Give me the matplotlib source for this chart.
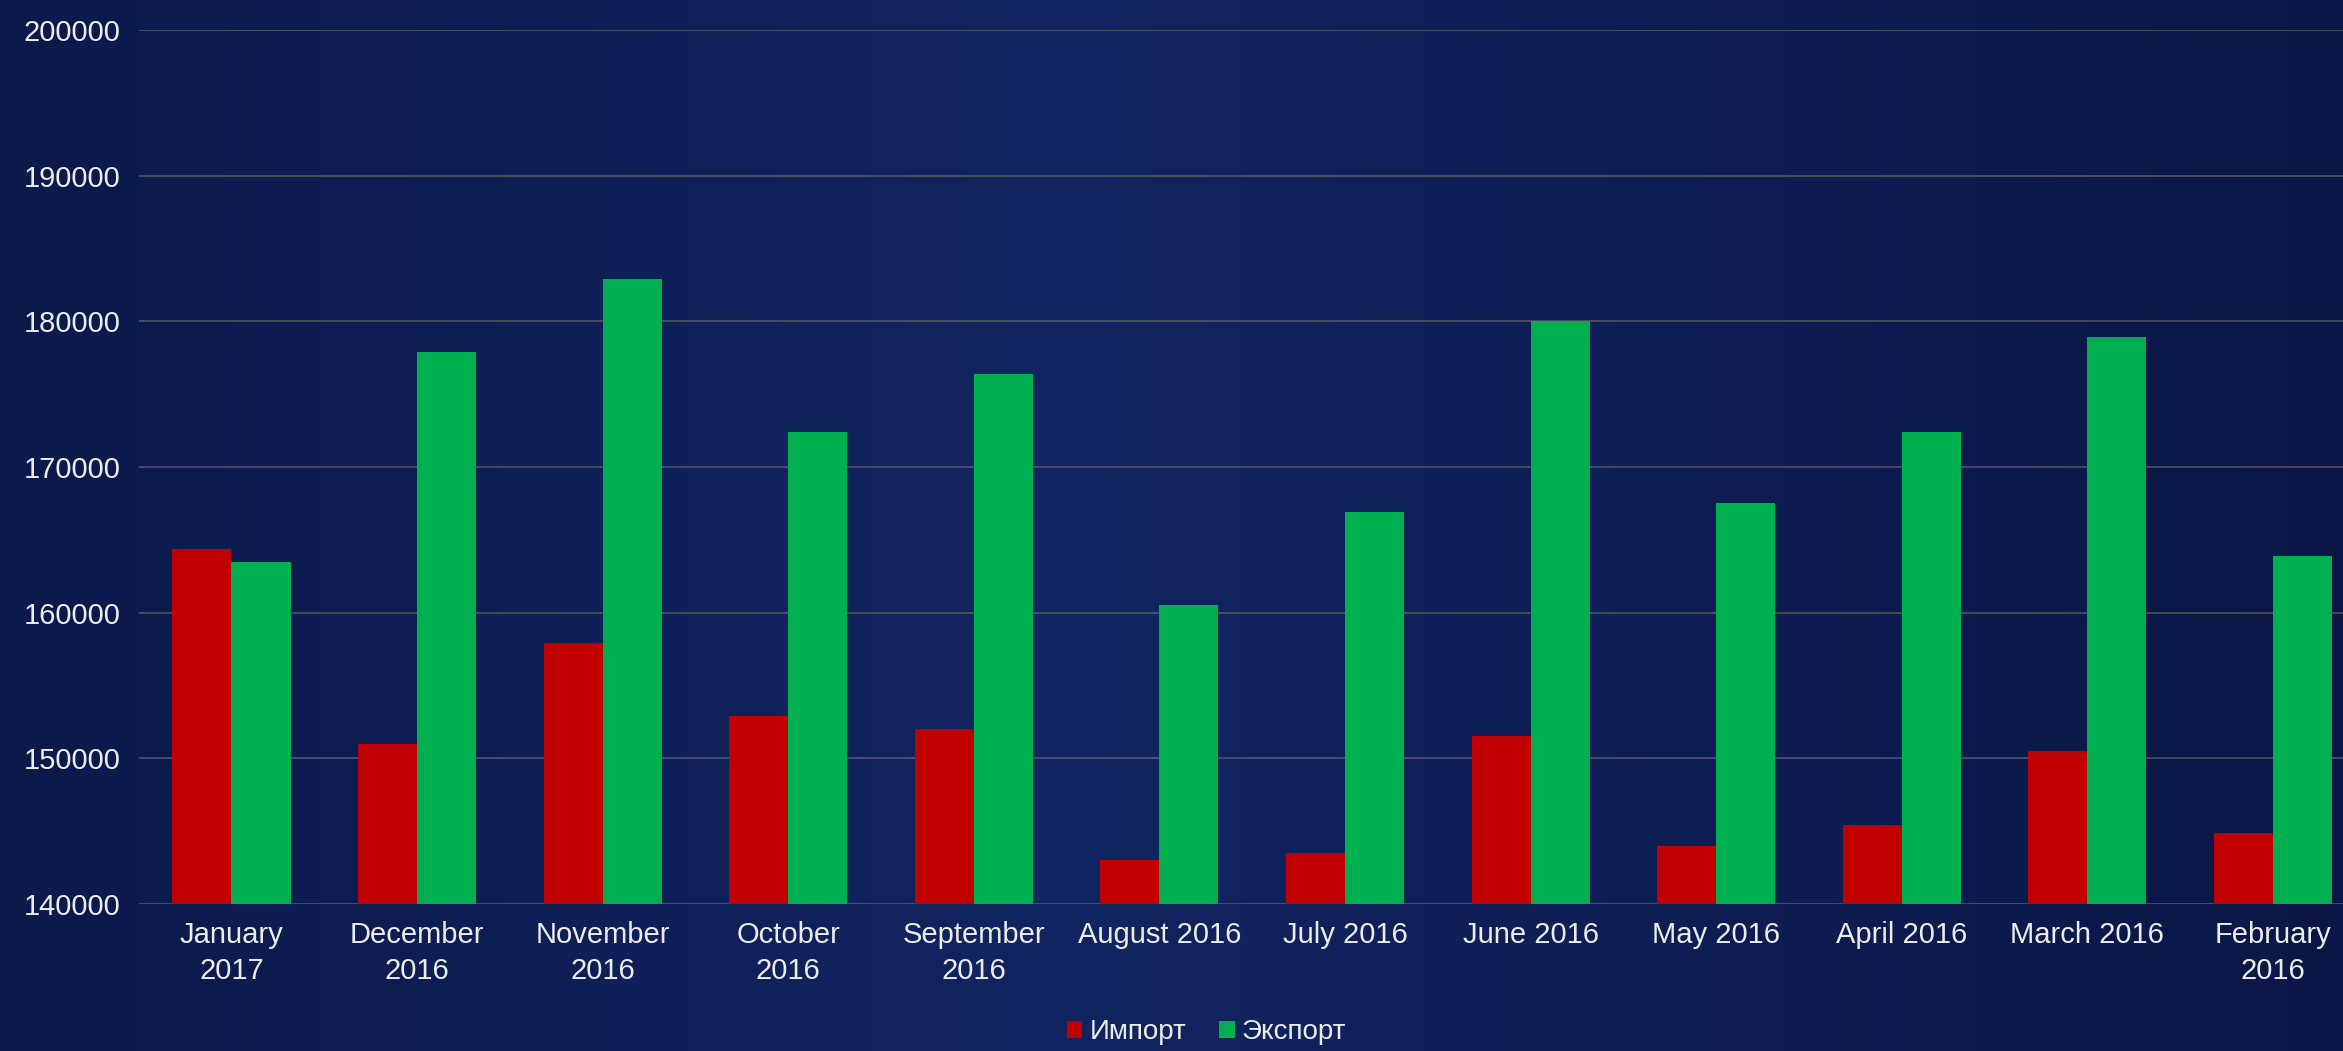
import numpy as np
import matplotlib.pyplot as plt
from matplotlib.colors import LinearSegmentedColormap

plt.rcParams['font.family'] = ['Liberation Sans', 'DejaVu Sans']

# data
months = ['January\n2017', 'December\n2016', 'November\n2016', 'October\n2016',
          'September\n2016', 'August 2016', 'July 2016', 'June 2016',
          'May 2016', 'April 2016', 'March 2016', 'February\n2016']
imports = [164400, 151000, 157900, 152900, 152000, 143000,
           143500, 151500, 144000, 145400, 150500, 144900]
exports = [163500, 177900, 182900, 172400, 176400, 160500,
           166900, 180000, 167500, 172400, 178900, 163900]
y_ticks = [140000, 150000, 160000, 170000, 180000, 190000, 200000]

bg = '#0c1a4e'
text_col = '#ececec'

fig = plt.figure(figsize=(23.43, 10.51), dpi=100, facecolor=bg)

# soft background shading (dark navy, a bit lighter in the middle)
bg_ax = fig.add_axes([0, 0, 1, 1], zorder=-10)
bg_ax.axis('off')
grad = np.linspace(0, 1, 256)
shade = np.clip(1 - np.abs(grad - 0.45) * 1.8, 0, 1)
cmap = LinearSegmentedColormap.from_list('navy', ['#0a1746', '#112560'])
bg_ax.imshow(np.tile(shade, (2, 1)), aspect='auto', cmap=cmap,
             extent=[0, 1, 0, 1])

ax = fig.add_axes([0.0592, 0.1399, 0.9505, 0.8316])
ax.patch.set_alpha(0)

x = np.arange(len(months))
w = 0.318
ax.bar(x - w / 2, imports, width=w, color='#c00000', label='Импорт', zorder=3)
ax.bar(x + w / 2, exports, width=w, color='#00b050', label='Экспорт', zorder=3)

ax.set_xlim(-0.5, len(months) - 0.5)
ax.set_ylim(140000, 200000)
ax.set_yticks(y_ticks)
ax.set_yticklabels([str(v) for v in y_ticks])
ax.set_xticks(x)
ax.set_xticklabels(months)
for lbl in ax.get_xticklabels():
    lbl.set_linespacing(1.4)

ax.grid(axis='y', color='#8a7f68', linewidth=1.2, alpha=0.55, zorder=0)
for s in ax.spines.values():
    s.set_visible(False)
ax.tick_params(axis='both', length=0, colors=text_col, labelsize=21)
ax.tick_params(axis='y', pad=13)
ax.tick_params(axis='x', pad=12)

fig.legend(loc='center', bbox_to_anchor=(0.515, 0.018), ncol=2, frameon=False,
           fontsize=20, labelcolor=text_col, handlelength=0.55,
           handleheight=0.55, handletextpad=0.25, columnspacing=1.2)

fig.savefig('out.png', dpi=100, facecolor=bg)
